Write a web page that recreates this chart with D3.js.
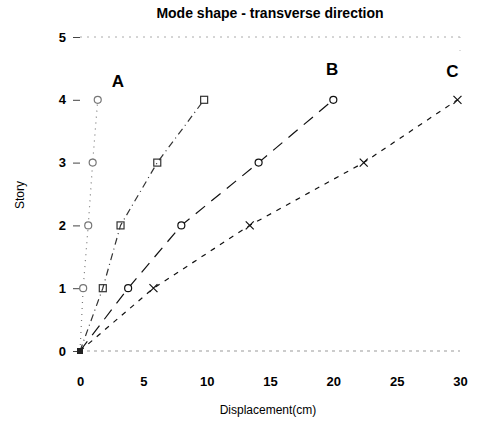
<!DOCTYPE html>
<html><head><meta charset="utf-8">
<script src="https://cdn.jsdelivr.net/npm/d3@7"></script>
<style>body{margin:0;background:#fff}svg{font-family:Arial,"Liberation Sans",sans-serif}</style>
</head><body>
<script>
const stories = [0, 1, 2, 3, 4];
const seriesA = [0, 0.25, 0.65, 1.0, 1.4];
const seriesD = [0, 1.8, 3.2, 6.1, 9.8];
const seriesB = [0, 3.8, 8.0, 14.1, 20.0];
const seriesC = [0, 5.8, 13.4, 22.4, 29.8];
const xTicks = [0, 5, 10, 15, 20, 25, 30];
const yTicks = [0, 1, 2, 3, 4, 5];
const labels = [
  {text: "A", x: 3.0, y: 4.2},
  {text: "B", x: 19.9, y: 4.4},
  {text: "C", x: 29.4, y: 4.37}
];

const W = 477, H = 425;
const svg = d3.select("body").append("svg").attr("width", W).attr("height", H);
const x = d3.scaleLinear().domain([0, 30]).range([80, 460]);
const y = d3.scaleLinear().domain([0, 5]).range([351, 37]);

// frame (faded dotted)
svg.append("line").attr("x1", x(0)).attr("x2", x(30)).attr("y1", y(5)).attr("y2", y(5))
  .attr("stroke", "#aaa").attr("stroke-width", 1).attr("stroke-dasharray", "2,5");
svg.append("line").attr("x1", x(0)).attr("x2", x(30)).attr("y1", y(0)).attr("y2", y(0))
  .attr("stroke", "#999").attr("stroke-width", 1).attr("stroke-dasharray", "3,4");
svg.append("line").attr("x1", x(30)).attr("x2", x(30)).attr("y1", y(5)).attr("y2", y(4.6))
  .attr("stroke", "#bbb").attr("stroke-width", 1).attr("stroke-dasharray", "1,12");

// y axis
const yAxis = d3.axisLeft(y).tickValues(yTicks).tickSize(-7).tickPadding(14).tickFormat(d3.format("d"));
const gy = svg.append("g").attr("transform", `translate(${x(0) - 7},0)`).call(yAxis);
gy.select(".domain").remove();
gy.selectAll(".tick line").attr("stroke", "#444");
gy.selectAll(".tick text").attr("font-size", 13).attr("font-weight", "bold").attr("fill", "#000").attr("dx", 7);

// x axis
const xAxis = d3.axisBottom(x).tickValues(xTicks).tickSize(0).tickPadding(26);
const gx = svg.append("g").attr("transform", `translate(0,${y(0)})`).call(xAxis);
gx.select(".domain").remove();
gx.selectAll(".tick text").attr("font-size", 13).attr("font-weight", "bold").attr("fill", "#000");

const line = d3.line().x(d => x(d[0])).y(d => y(d[1]));
const series = [
  {vals: seriesA, dash: "1,5", color: "#777", sym: "circle", w: 1.2},
  {vals: seriesD, dash: "7,4,1,4", color: "#333", sym: "square", w: 1.2},
  {vals: seriesB, dash: "12,8", color: "#111", sym: "circle", w: 1.2},
  {vals: seriesC, dash: "5,6", color: "#111", sym: "cross", w: 1.2}
];
series.forEach(s => {
  const pts = s.vals.map((v, i) => [v, stories[i]]);
  svg.append("path").datum(pts).attr("d", line).attr("fill", "none")
    .attr("stroke", s.color).attr("stroke-width", s.w).attr("stroke-dasharray", s.dash);
  const g = svg.append("g");
  pts.slice(1).forEach(p => {
    if (s.sym === "cross") {
      g.append("path").attr("d", "M-4,-4L4,4M-4,4L4,-4")
        .attr("transform", `translate(${x(p[0])},${y(p[1])})`)
        .attr("stroke", s.color).attr("stroke-width", 1.2).attr("fill", "none");
    } else if (s.sym === "circle") {
      g.append("circle").attr("cx", x(p[0])).attr("cy", y(p[1])).attr("r", 3.5)
        .attr("fill", "#fff").attr("stroke", s.color).attr("stroke-width", 1.2);
    } else {
      g.append("rect").attr("x", x(p[0]) - 3.5).attr("y", y(p[1]) - 3.5).attr("width", 7).attr("height", 7)
        .attr("fill", "none").attr("stroke", s.color).attr("stroke-width", 1.2);
    }
  });
});
// origin marker
svg.append("rect").attr("x", x(0) - 3).attr("y", y(0) - 3).attr("width", 6).attr("height", 6).attr("fill", "#222");

// labels
labels.forEach(l => {
  svg.append("text").attr("x", x(l.x)).attr("y", y(l.y)).attr("text-anchor", "middle")
    .attr("font-size", 17).attr("font-weight", "bold").attr("fill", "#000").text(l.text);
});

svg.append("text").attr("x", 270).attr("y", 18).attr("text-anchor", "middle")
  .attr("font-size", 14).attr("font-weight", "bold").text("Mode shape - transverse direction");
svg.append("text").attr("x", 268).attr("y", 414).attr("text-anchor", "middle")
  .attr("font-size", 12).text("Displacement(cm)");
svg.append("text").attr("transform", "translate(24,195) rotate(-90)").attr("text-anchor", "middle")
  .attr("font-size", 12).text("Story");
</script>
</body></html>
